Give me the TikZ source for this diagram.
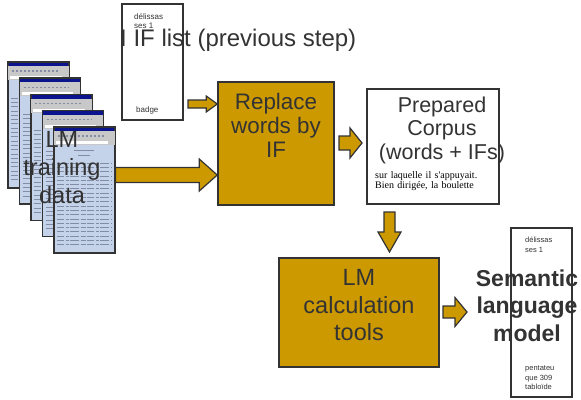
\documentclass[tikz,border=0pt]{standalone}
\usepackage{fontspec}
\setmainfont{Liberation Sans}
\newfontfamily\corpusfont{Liberation Serif}
\usetikzlibrary{calc}
\definecolor{gold}{RGB}{204,153,0}
\definecolor{ink}{RGB}{51,51,51}
\definecolor{pageblue}{RGB}{196,210,234}
\definecolor{barblue}{RGB}{10,20,140}
\definecolor{toolgray}{RGB}{200,200,200}
\definecolor{pageline}{RGB}{130,140,165}
\tikzset{
  goldbox/.style={draw=ink, line width=1.5pt, fill=gold, inner sep=0pt},
  paperbox/.style={draw=ink, line width=1.3pt, fill=white, inner sep=0pt},
  page/.style={draw=ink, line width=1.5pt, fill=pageblue, minimum width=61pt, minimum height=126pt, inner sep=0pt, anchor=north west},
  blockarrow/.style={draw=ink, line width=1.2pt, fill=gold, line join=miter},
  words/.style 2 args={text=ink, align=center, inner sep=0pt, font=\fontsize{#1}{#2}\selectfont},
  tiny/.style={text=ink, align=left, inner sep=0pt, anchor=west, font=\fontsize{7.5}{9.5}\selectfont},
}
% fat arrows: from, to, half shaft, half head, head length
\newcommand\harrow[5]{%
  \draw[blockarrow] let \p1=(#1), \p2=(#2) in
    (\x1,\y1+#3) -- (\x2-#5,\y1+#3) -- (\x2-#5,\y1+#4) -- (\x2,\y1)
    -- (\x2-#5,\y1-#4) -- (\x2-#5,\y1-#3) -- (\x1,\y1-#3) -- cycle;}
\newcommand\varrow[5]{%
  \draw[blockarrow] let \p1=(#1), \p2=(#2) in
    (\x1-#3,\y1) -- (\x1-#3,\y2+#5) -- (\x1-#4,\y2+#5) -- (\x1,\y2)
    -- (\x1+#4,\y2+#5) -- (\x1+#3,\y2+#5) -- (\x1+#3,\y1) -- cycle;}
\begin{document}
\begin{tikzpicture}[x=1pt,y=-1pt]
  \useasboundingbox (0,0) rectangle (581,399);

  % training data pages
  \foreach \i in {0,...,4}{
    \node[page] (page\i) at ({7+11.5*\i},{61+16.25*\i}) {};
    \fill[barblue] ([xshift=1.5pt,yshift=-1.5pt]page\i.north west) rectangle ([xshift=-1.5pt,yshift=-5pt]page\i.north east);
    \fill[toolgray] ([xshift=1pt,yshift=-5pt]page\i.north west) rectangle ([xshift=-1pt,yshift=-19pt]page\i.north east);
    \draw[pageline, line width=1.4pt, dash pattern=on 2pt off 2pt] ([xshift=5pt,yshift=-10pt]page\i.north west) -- ([xshift=-12pt,yshift=-10pt]page\i.north east);
    \fill[white] ([xshift=3pt,yshift=-15pt]page\i.north west) rectangle ([xshift=-8pt,yshift=-18pt]page\i.north east);
    \draw[pageline, line width=0.8pt] ([xshift=-10pt,yshift=-24pt]page\i.north) -- ([xshift=10pt,yshift=-24pt]page\i.north);
    \draw[pageline, line width=0.8pt] ([xshift=-6pt,yshift=-29pt]page\i.north) -- ([xshift=6pt,yshift=-29pt]page\i.north);
    \foreach \k in {0,...,19}
      \draw[pageline, line width=0.7pt, dash pattern=on 7pt off 1.5pt on 3pt off 1.5pt on 9pt off 1.5pt on 5pt off 1.5pt]
        ([xshift=4pt,yshift={-37-4.3*\k}]page\i.north west) -- ([xshift=-4pt,yshift={-37-4.3*\k}]page\i.north east);
  }
  \node[words={23.5}{28}] (datatxt) at (62,168) {LM\\training\\data};

  % IF list
  \node[paperbox, minimum width=61pt, minimum height=116pt] (iflist) at (152.5,62) {};
  \node[tiny, font=\fontsize{8}{8.5}\selectfont] (iftop) at (134,21) {délissas\\ses 1};
  \node[tiny, font=\fontsize{8}{8.5}\selectfont] (ifbottom) at (136,110) {badge};
  \node[words={24}{28}, anchor=base west] (iftitle) at (120,46) {I IF list (previous step)};

  % steps
  \node[goldbox, minimum width=116pt, minimum height=123pt] (replace) at (276,143.5) {};
  \node[words={22.4}{24}] (replacetxt) at (276,125) {Replace\\words by\\IF};

  \node[paperbox, minimum width=132pt, minimum height=115pt] (prepared) at (433,146.5) {};
  \node[words={21.5}{23.5}] (preparedtxt) at (442,130) {Prepared\\Corpus\\(words + IFs)};
  \node[fill=white, inner sep=0pt, text width=118pt, minimum height=32pt, anchor=north west, align=left, text=black,
    font=\corpusfont\fontsize{10}{9.5}\selectfont] (corpustxt) at (375,165) {sur laquelle il s'appuyait.\\Bien dirigée, la boulette};

  \node[goldbox, minimum width=160pt, minimum height=109pt] (lmcalc) at (359,312.5) {};
  \node[words={23.5}{27.5}] (lmcalctxt) at (359,305.5) {LM\\calculation\\tools};

  \node[paperbox, minimum width=61pt, minimum height=169pt] (semantic) at (541.5,312.5) {};
  \node[tiny] (semtop) at (525,245) {délissas\\ses 1};
  \node[tiny] (sembottom) at (525,378) {pentateu\\que 309\\tabloïde};
  \node[words={23}{27.5}, font=\fontsize{23}{27.5}\bfseries] (semantictxt) at (527,305.5) {Semantic\\language\\model};

  % arrows
  \coordinate (ifout) at (188,104);
  \coordinate (dataout) at (page4.east |- 0,175);
  \coordinate (replaceout) at (339,143);
  \coordinate (preparedin) at (362,143);
  \coordinate (preparedout) at (389.5,212);
  \coordinate (lmcalcin) at (389.5,252);
  \coordinate (lmcalcout) at (443,312);
  \coordinate (semanticin) at (467,312);
  \harrow{ifout}{replace.west |- ifout}{4pt}{8pt}{11pt}
  \harrow{dataout}{replace.west |- dataout}{7.5pt}{16pt}{18pt}
  \harrow{replaceout}{preparedin}{7pt}{15pt}{12pt}
  \varrow{preparedout}{lmcalcin}{5.5pt}{11.5pt}{20pt}
  \harrow{lmcalcout}{semanticin}{6pt}{14.5pt}{12pt}
\end{tikzpicture}
\end{document}
